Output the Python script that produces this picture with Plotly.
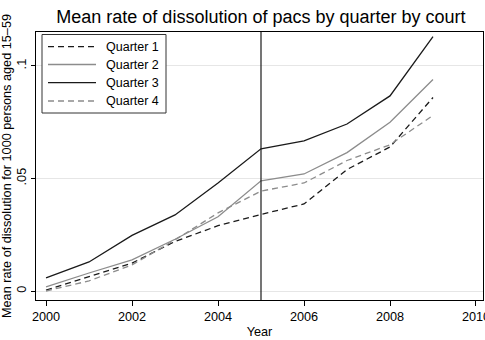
import plotly.graph_objects as go

years = [2000, 2001, 2002, 2003, 2004, 2005, 2006, 2007, 2008, 2009]
q1 = [0.0004, 0.0065, 0.0124, 0.0220, 0.0290, 0.0340, 0.0387, 0.0540, 0.0640, 0.0860]
q2 = [0.0018, 0.0080, 0.0138, 0.0230, 0.0330, 0.0490, 0.0520, 0.0615, 0.0750, 0.0940]
q3 = [0.0058, 0.0129, 0.0247, 0.0338, 0.0480, 0.0632, 0.0667, 0.0742, 0.0867, 0.1130]
q4 = [0.0000, 0.0045, 0.0116, 0.0227, 0.0347, 0.0444, 0.0480, 0.0580, 0.0650, 0.0780]
marker_year = 2005

DASH = "6px,4px"
series = [
    ("Quarter 1", q1, "#1a1a1a", DASH),
    ("Quarter 2", q2, "#8c8c8c", "solid"),
    ("Quarter 3", q3, "#1a1a1a", "solid"),
    ("Quarter 4", q4, "#8c8c8c", DASH),
]

# plot area in pixels (for placing the legend box)
L, R, T, B = 36, 483, 32, 300
W, H = 485, 340
def px(x): return (x - L) / (R - L)
def py(y): return (B - y) / (B - T)

fig = go.Figure()
for name, vals, color, dash in series:
    fig.add_trace(go.Scatter(x=years, y=vals, mode="lines", name=name, showlegend=False,
                             line=dict(color=color, width=1.3, dash=dash)))

shapes = [
    dict(type="line", xref="x", yref="paper", x0=marker_year, x1=marker_year, y0=0, y1=1,
         line=dict(color="#1a1a1a", width=1.2), layer="above"),
    dict(type="rect", xref="paper", yref="paper", x0=px(42), x1=px(166), y0=py(113), y1=py(34.5),
         line=dict(color="#333333", width=1), fillcolor="white", layer="above"),
]
annotations = []
row_y = [46.7, 64.5, 82.7, 101]
for (name, vals, color, dash), ry in zip(series, row_y):
    shapes.append(dict(type="line", xref="paper", yref="paper", x0=px(48), x1=px(96), y0=py(ry), y1=py(ry),
                       line=dict(color=color, width=1.3, dash=dash), layer="above"))
    annotations.append(dict(text=name, xref="paper", yref="paper", x=px(104), y=py(ry),
                            xanchor="left", yanchor="middle", showarrow=False,
                            font=dict(size=12.5, color="black")))

fig.update_layout(
    width=W, height=H,
    margin=dict(l=L, r=W - R, t=T, b=H - B, autoexpand=False),
    paper_bgcolor="white", plot_bgcolor="white",
    font=dict(family="Liberation Sans, Arial, sans-serif", size=12.7, color="black"),
    title=dict(text="Mean rate of dissolution of pacs by quarter by court",
               x=0.538, xanchor="center", y=0.95, yanchor="middle",
               font=dict(size=18, color="black")),
    shapes=shapes, annotations=annotations,
    showlegend=False,
)
fig.update_xaxes(range=[1999.767, 2010.163], tickvals=[2000, 2002, 2004, 2006, 2008, 2010],
                 ticks="outside", ticklen=5, tickcolor="black", showgrid=False,
                 showline=True, linecolor="black", linewidth=1, mirror=True,
                 ticklabeloverflow="allow", automargin=False,
                 title=dict(text="Year", font=dict(size=12.7), standoff=3),
                 tickfont=dict(size=12.7), zeroline=False)
fig.update_yaxes(range=[-0.004, 0.1151], tickvals=[0, 0.05, 0.1], ticktext=["0", ".05", ".1"],
                 tickangle=-90, ticks="outside", ticklen=4, tickcolor="black",
                 showgrid=True, gridcolor="#e6e6e6", gridwidth=1,
                 showline=True, linecolor="black", linewidth=1, mirror=True,
                 automargin=False,
                 title=dict(text="Mean rate of dissolution for 1000 persons aged 15–59",
                            font=dict(size=12.7), standoff=0),
                 tickfont=dict(size=12.7), zeroline=False)

fig.write_html("out.html")
